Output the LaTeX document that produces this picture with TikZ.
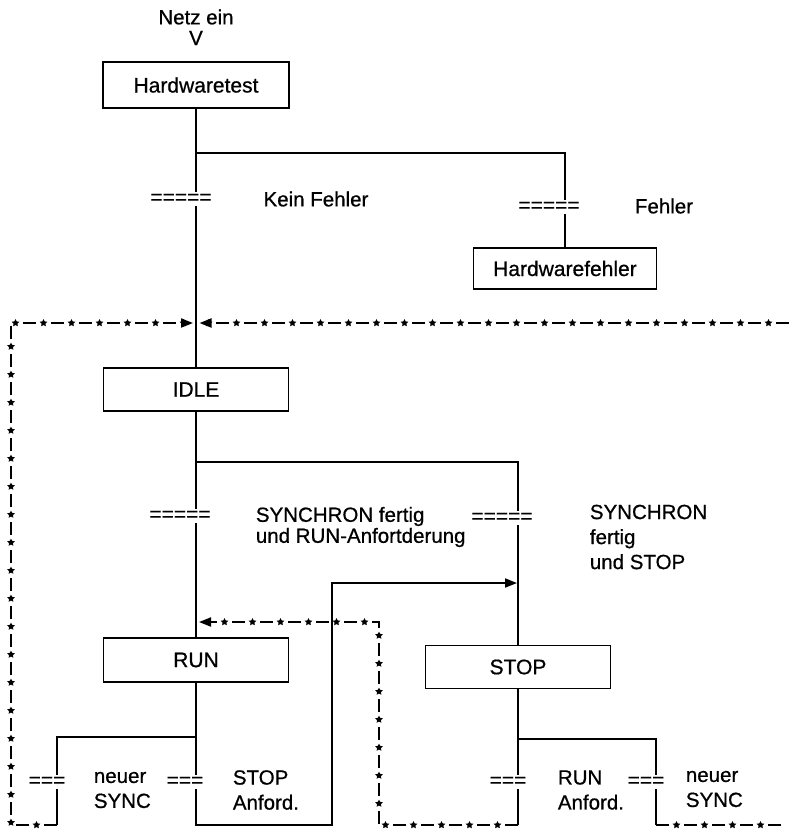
\documentclass[tikz,border=0pt]{standalone}
\usepackage{fontspec}
\setmainfont{Liberation Sans}[FakeBold=0.7]
\usetikzlibrary{arrows.meta,shapes.geometric,decorations.markings}
\begin{document}
\begin{tikzpicture}[x=1pt,y=-1pt, line width=1.8pt,
  box/.style={draw, minimum width=185pt, minimum height=44pt, inner sep=0pt, font=\fontsize{21}{24}\selectfont},
  lbl/.style={font=\fontsize{20.5}{25}\selectfont, align=left, inner sep=0pt},
  trans/.style={fill=white, inner xsep=0pt, inner ysep=2pt, font=\fontsize{21}{24}\selectfont},
  starmark/.style={star, star points=5, star point ratio=2.0, fill=black, draw=none, inner sep=0pt, minimum size=8pt},
  stardash/.style={dash pattern=on 13pt off 15pt, postaction={decorate},
    decoration={markings, mark=between positions 20.5pt and -6pt step 28pt with {\node[starmark]{};}}},
  flow/.style={-{Triangle[length=12pt,width=9pt]}},
]
\useasboundingbox (0,0) rectangle (789,833);

% texts at top
\node[lbl] (netz) at (196,17) {Netz ein};
\node[lbl] (v) at (196,38) {V};

% boxes
\node[box, minimum width=186pt, minimum height=46pt] (hw) at (196,85) {Hardwaretest};
\node[box, minimum width=183pt, minimum height=41pt] (hwf) at (565,268.5) {Hardwarefehler};
\node[box, minimum height=43pt] (idle) at (196,389.5) {IDLE};
\node[box] (run) at (196,660) {RUN};
\node[box, minimum height=43pt] (stop) at (518,667) {STOP};

% junction coordinates
\coordinate (j1) at (196,153);
\coordinate (j1r) at (565,153);
\coordinate (j2) at (196,462);
\coordinate (j2r) at (518,462);
\coordinate (j3) at (196,737);
\coordinate (j3l) at (57,737);
\coordinate (e1) at (57,825);
\coordinate (b1) at (196,825);
\coordinate (b2) at (332,825);
\coordinate (b3) at (332,583);
\coordinate (a1) at (517,583);
\coordinate (j4) at (518,739);
\coordinate (j4r) at (656,739);
\coordinate (e2) at (518,825);
\coordinate (e3) at (656,825);
\coordinate (il) at (193,323);
\coordinate (ir) at (199.5,323);
\coordinate (redge) at (789,323);
\coordinate (ledgeb) at (11,825);
\coordinate (ledget) at (11,323);
\coordinate (m1) at (379,825);
\coordinate (m2) at (379,622);
\coordinate (ri) at (199,622);
\coordinate (rbedge) at (789,825);

% solid connectors
\draw (hw.south) -- (j1) -- (idle.north);
\draw (j1) -- (j1r) -- (hwf.north);
\draw (idle.south) -- (run.north);
\draw (j2) -- (j2r) -- (stop.north);
\draw[flow] (run.south) -- (b1) -- (b2) -- (b3) -- (a1);
\draw (j3) -- (j3l) -- (e1);
\draw (stop.south) -- (e2);
\draw (j4) -- (j4r) -- (e3);

% dashed star connectors
\draw[stardash, flow] (e1) -- (ledgeb) -- (ledget) -- (il);
\draw[stardash, flow] (redge) -- (ir);
\draw[stardash, flow] (e2) -- (m1) -- (m2) -- (ri);
\draw[stardash] (e3) -- (rbedge);

% transitions
\node[trans] (tA) at (181,199) {=====};
\node[trans] (tB) at (549,207) {=====};
\node[trans] (tC) at (180,516) {=====};
\node[trans] (tD) at (502,518) {=====};
\node[trans] (tE) at (47,782) {===};
\node[trans] (tF) at (185,782) {===};
\node[trans] (tG) at (508,782) {===};
\node[trans] (tH) at (646,782) {===};

% labels
\node[lbl] (kf) at (316,199) {Kein Fehler};
\node[lbl] (f) at (664,206) {Fehler};
\node[lbl, anchor=west, font=\fontsize{20.5}{21}\selectfont] (s1) at (255,527) {SYNCHRON fertig\\und RUN-Anfortderung};
\node[lbl, anchor=west] (s2) at (589,537) {SYNCHRON\\fertig\\und STOP};
\node[lbl, anchor=west] (n1) at (93,790) {neuer\\SYNC};
\node[lbl, anchor=west] (sa) at (232,790) {STOP\\Anford.};
\node[lbl, anchor=west] (ra) at (557,790) {RUN\\Anford.};
\node[lbl, anchor=west] (n2) at (685,789) {neuer\\SYNC};
\end{tikzpicture}
\end{document}
